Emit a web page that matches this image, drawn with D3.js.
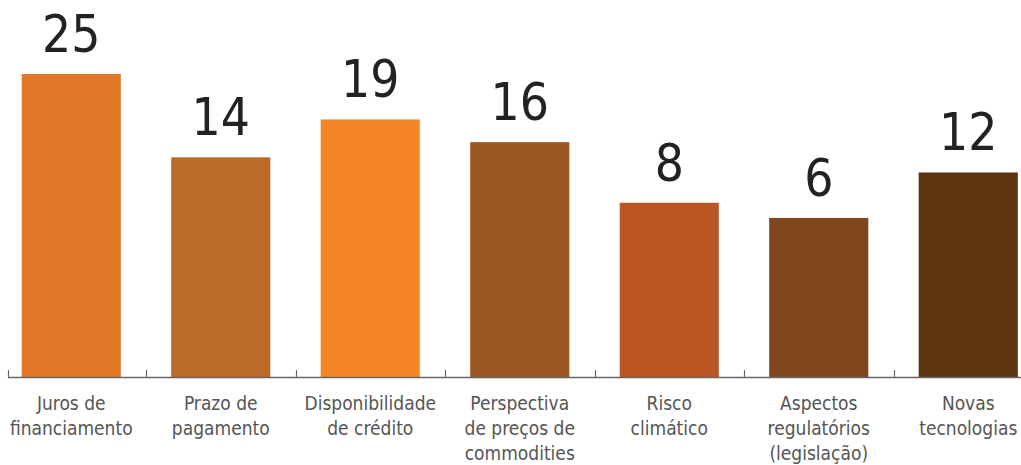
<!DOCTYPE html>
<html>
<head>
<meta charset="utf-8">
<script src="https://cdn.jsdelivr.net/npm/d3@7"></script>
<style>
  html, body { margin: 0; padding: 0; background: #fff; }
  #chart { width: 1021px; height: 465px; }
</style>
</head>
<body>
<div id="chart"></div>
<script>
const categories = ['juros', 'prazo', 'disponibilidade', 'perspectiva', 'risco', 'aspectos', 'novas'];
const values = [25, 14, 19, 16, 8, 6, 12];
const tickLabels = [
  ['Juros de', 'financiamento'],
  ['Prazo de', 'pagamento'],
  ['Disponibilidade', 'de crédito'],
  ['Perspectiva', 'de preços de', 'commodities'],
  ['Risco', 'climático'],
  ['Aspectos', 'regulatórios', '(legislação)'],
  ['Novas', 'tecnologias']
];
const colors = ['#e07828', '#bc6a28', '#f48626', '#9c5823', '#b95624', '#80461e', '#5e3310'];

function renderChart(containerSelector) {
  const container = d3.select(containerSelector);
  const width = 1021, height = 465;
  const baseline = 377;
  const font = '"DejaVu Sans Condensed", "DejaVu Sans", sans-serif';

  const svg = container.append('svg')
    .attr('width', width)
    .attr('height', height);

  const x = d3.scaleBand()
    .domain(categories)
    .range([-3.5, 1043])
    .paddingInner(0.337)
    .paddingOuter(0.1685);

  const y = d3.scaleLinear()
    .domain([-15, 25])
    .range([baseline, 74]);

  // Bars
  svg.selectAll('rect.bar')
    .data(categories)
    .join('rect')
    .attr('class', 'bar')
    .attr('x', d => x(d))
    .attr('width', x.bandwidth())
    .attr('y', (d, i) => y(values[i]))
    .attr('height', (d, i) => baseline - y(values[i]))
    .attr('fill', (d, i) => colors[i]);

  // Value labels
  svg.selectAll('text.value')
    .data(categories)
    .join('text')
    .attr('class', 'value')
    .attr('x', d => x(d) + x.bandwidth() / 2)
    .attr('y', (d, i) => y(values[i]) - 22)
    .attr('text-anchor', 'middle')
    .style('font-family', font)
    .style('font-size', '51px')
    .style('fill', '#222')
    .text((d, i) => values[i]);

  // Axis line and ticks at band boundaries
  const axis = svg.append('g');
  axis.append('line')
    .attr('x1', 8).attr('x2', width)
    .attr('y1', baseline + 0.5).attr('y2', baseline + 0.5)
    .attr('stroke', '#666').attr('stroke-width', 1.5);

  const bounds = [8].concat(categories.slice(1).map(d => x(d) - x.step() * x.paddingInner() / 2));
  axis.selectAll('line.tick')
    .data(bounds)
    .join('line')
    .attr('class', 'tick')
    .attr('x1', d => Math.round(d) + 0.5).attr('x2', d => Math.round(d) + 0.5)
    .attr('y1', baseline - 7).attr('y2', baseline + 0.5)
    .attr('stroke', '#666').attr('stroke-width', 1.2);

  // Category labels
  const labels = svg.selectAll('text.cat')
    .data(categories)
    .join('text')
    .attr('class', 'cat')
    .attr('text-anchor', 'middle')
    .style('font-family', font)
    .style('font-size', '19px')
    .style('fill', '#555');

  labels.each(function (d, i) {
    const t = d3.select(this);
    tickLabels[i].forEach((line, j) => {
      t.append('tspan')
        .attr('x', x(d) + x.bandwidth() / 2)
        .attr('y', 410 + j * 25)
        .text(line);
    });
  });
}

renderChart('#chart');
</script>
</body>
</html>
